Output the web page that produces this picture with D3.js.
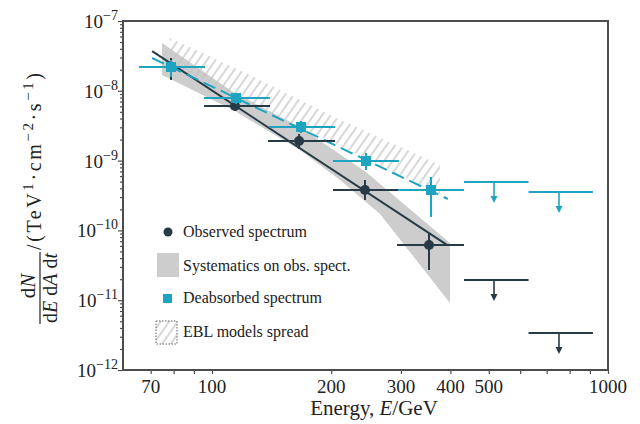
<!DOCTYPE html>
<html>
<head>
<meta charset="utf-8">
<script src="https://cdn.jsdelivr.net/npm/d3@7"></script>
<style>
  body { margin: 0; background: #fff; }
  svg { display: block; font-family: "Liberation Serif", "DejaVu Serif", serif; }
</style>
</head>
<body>
<div id="container"></div>
<script>
"use strict";

const plotWidth = 640;
const plotHeight = 424;
const plotLeft = 123, plotRight = 608, plotTop = 21, plotBottom = 370;

const darkColor = "#263b45";
const cyanColor = "#1ea4c0";
const bandColor = "#cdcdcd";
const hatchColor = "#c2c2c2";
const frameColor = "#4d4d4d";

// observed spectrum (GeV, TeV^-1 cm^-2 s^-1)
const obsEnergy = [78.8, 114.3, 165.9, 243.4, 353.2];
const obsElow = [65.4, 95.5, 138.5, 202.1, 293.2];
const obsEhigh = [96.0, 140.1, 204.5, 294.9, 432.9];
const obsFlux = [2.19e-8, 6.05e-9, 1.91e-9, 3.79e-10, 6.18e-11];
const obsFluxLow = [1.43e-8, 5.14e-9, 1.47e-9, 2.73e-10, 2.71e-11];
const obsFluxHigh = [2.95e-8, 7.15e-9, 2.41e-9, 5.27e-10, 9.18e-11];

// deabsorbed spectrum
const deabsEnergy = [78.8, 115.0, 167.8, 244.8, 357.3];
const deabsElow = [65.4, 95.5, 139.3, 202.1, 294.9];
const deabsEhigh = [96.0, 140.1, 204.5, 296.6, 432.9];
const deabsFlux = [2.19e-8, 7.88e-9, 3.03e-9, 9.86e-10, 3.79e-10];
const deabsFluxLow = [1.58e-8, 6.47e-9, 2.48e-9, 7.33e-10, 1.56e-10];
const deabsFluxHigh = [2.76e-8, 9.29e-9, 3.69e-9, 1.29e-9, 5.82e-10];

// upper limits
const ulEnergy = [515.4, 752];
const ulElow = [432.9, 630];
const ulEhigh = [630, 916];
const obsUlFlux = [1.95e-11, 3.39e-12];
const deabsUlFlux = [4.93e-10, 3.55e-10];

// fitted power laws
const obsFitEnergy = [70.6, 392];
const obsFitFlux = [3.7e-8, 6.2e-11];
const deabsFitEnergy = [70.6, 394];
const deabsFitFlux = [2.95e-8, 2.82e-10];

// systematics band on observed spectrum
const sysUpperEnergy = [74.8, 113, 166.8, 244.8, 399];
const sysUpperFlux = [4.84e-8, 9.6e-9, 3.03e-9, 6.87e-10, 6.6e-11];
const sysLowerEnergy = [74.8, 113, 166.8, 210.5, 265.6, 399];
const sysLowerFlux = [1.68e-8, 5.31e-9, 1.42e-9, 5.27e-10, 1.72e-10, 9.12e-12];

// EBL models spread
const eblEnergy = [78.3, 124.7, 198.6, 376.5];
const eblUpperFlux = [5.71e-8, 1.68e-8, 4.5e-9, 8.65e-10];
const eblLowerFlux = [2.42e-8, 6.68e-9, 1.91e-9, 3.32e-10];

const xTicks = [70, 80, 90, 100, 200, 300, 400, 500, 600, 700, 800, 900, 1000];
const xLabels = [70, 100, 200, 300, 400, 500, 1000];
const yMajor = [1e-12, 1e-11, 1e-10, 1e-9, 1e-8, 1e-7];
const yExponents = ["−12", "−11", "−10", "−9", "−8", "−7"];

const legendLabels = ["Observed spectrum", "Systematics on obs. spect.", "Deabsorbed spectrum", "EBL models spread"];

const xScale = d3.scaleLog().domain([59.6, 1000]).range([plotLeft, plotRight]);
const yScale = d3.scaleLog().domain([1e-12, 1e-7]).range([plotBottom, plotTop]);

const svg = d3
  .select("#container")
  .append("svg")
  .attr("width", plotWidth)
  .attr("height", plotHeight);

const defs = svg.append("defs");
defs
  .append("pattern")
  .attr("id", "hatch")
  .attr("patternUnits", "userSpaceOnUse")
  .attr("width", 7)
  .attr("height", 7)
  .attr("patternTransform", "rotate(35)")
  .append("line")
  .attr("x1", 1).attr("y1", 0).attr("x2", 1).attr("y2", 7)
  .attr("stroke", hatchColor)
  .attr("stroke-width", 1.3);

const area = (eUp, fUp, eLo, fLo) => {
  const pts = eUp.map((e, i) => [xScale(e), yScale(fUp[i])]);
  const lows = eLo.map((e, i) => [xScale(e), yScale(fLo[i])]).reverse();
  return "M" + pts.concat(lows).map((p) => p.join(",")).join("L") + "Z";
};

// systematics band
svg
  .append("path")
  .attr("d", area(sysUpperEnergy, sysUpperFlux, sysLowerEnergy, sysLowerFlux))
  .attr("fill", bandColor);

// EBL hatch
svg
  .append("path")
  .attr("d", area(eblEnergy, eblUpperFlux, eblEnergy, eblLowerFlux))
  .attr("fill", "url(#hatch)");

// fit lines
const line = d3.line().x((d) => xScale(d[0])).y((d) => yScale(d[1]));
svg
  .append("path")
  .attr("d", line(obsFitEnergy.map((e, i) => [e, obsFitFlux[i]])))
  .attr("stroke", darkColor)
  .attr("stroke-width", 2)
  .attr("fill", "none");
svg
  .append("path")
  .attr("d", line(deabsFitEnergy.map((e, i) => [e, deabsFitFlux[i]])))
  .attr("stroke", cyanColor)
  .attr("stroke-width", 2)
  .attr("stroke-dasharray", "13,6")
  .attr("fill", "none");

const drawPoints = (energy, eLow, eHigh, flux, fLow, fHigh, color, shape) => {
  const data = energy.map((e, i) => ({ e, el: eLow[i], eh: eHigh[i], f: flux[i], fl: fLow[i], fh: fHigh[i] }));
  const g = svg.append("g").attr("stroke", color).attr("stroke-width", 2);
  g.selectAll(".xerr")
    .data(data)
    .join("line")
    .attr("class", "xerr")
    .attr("x1", (d) => xScale(d.el))
    .attr("x2", (d) => xScale(d.eh))
    .attr("y1", (d) => yScale(d.f))
    .attr("y2", (d) => yScale(d.f));
  g.selectAll(".yerr")
    .data(data)
    .join("line")
    .attr("class", "yerr")
    .attr("x1", (d) => xScale(d.e))
    .attr("x2", (d) => xScale(d.e))
    .attr("y1", (d) => yScale(d.fl))
    .attr("y2", (d) => yScale(d.fh));
  if (shape === "circle") {
    svg.append("g").selectAll("circle")
      .data(data)
      .join("circle")
      .attr("cx", (d) => xScale(d.e))
      .attr("cy", (d) => yScale(d.f))
      .attr("r", 5)
      .attr("fill", color);
  } else {
    svg.append("g").selectAll("rect")
      .data(data)
      .join("rect")
      .attr("x", (d) => xScale(d.e) - 5)
      .attr("y", (d) => yScale(d.f) - 5)
      .attr("width", 10)
      .attr("height", 10)
      .attr("fill", color);
  }
};

const drawLimits = (flux, color) => {
  const data = ulEnergy.map((e, i) => ({ e, el: ulElow[i], eh: ulEhigh[i], f: flux[i] }));
  const g = svg.append("g");
  g.selectAll(".bar")
    .data(data)
    .join("line")
    .attr("class", "bar")
    .attr("x1", (d) => xScale(d.el))
    .attr("x2", (d) => xScale(d.eh))
    .attr("y1", (d) => yScale(d.f))
    .attr("y2", (d) => yScale(d.f))
    .attr("stroke", color)
    .attr("stroke-width", 2);
  g.selectAll(".stem")
    .data(data)
    .join("line")
    .attr("class", "stem")
    .attr("x1", (d) => xScale(d.e))
    .attr("x2", (d) => xScale(d.e))
    .attr("y1", (d) => yScale(d.f))
    .attr("y2", (d) => yScale(d.f) + 16)
    .attr("stroke", color)
    .attr("stroke-width", 1.6);
  g.selectAll(".head")
    .data(data)
    .join("path")
    .attr("class", "head")
    .attr("d", (d) => {
      const x = xScale(d.e), y = yScale(d.f);
      return `M${x - 3.5},${y + 14}L${x + 3.5},${y + 14}L${x},${y + 21}Z`;
    })
    .attr("fill", color);
};

drawPoints(obsEnergy, obsElow, obsEhigh, obsFlux, obsFluxLow, obsFluxHigh, darkColor, "circle");
drawPoints(deabsEnergy, deabsElow, deabsEhigh, deabsFlux, deabsFluxLow, deabsFluxHigh, cyanColor, "square");
drawLimits(deabsUlFlux, cyanColor);
drawLimits(obsUlFlux, darkColor);

// axes
const yMinor = [];
yMajor.slice(0, -1).forEach((m) => {
  for (let k = 2; k <= 9; k++) yMinor.push(m * k);
});

const xAxis = d3.axisBottom(xScale).tickValues(xTicks).tickSize(4).tickSizeOuter(0).tickFormat("");
const yAxis = d3.axisLeft(yScale).tickValues(yMajor).tickSize(5).tickSizeOuter(0).tickFormat("");
const yAxisMinor = d3.axisLeft(yScale).tickValues(yMinor).tickSize(3).tickSizeOuter(0).tickFormat("");

[
  svg.append("g").attr("transform", `translate(0, ${plotBottom})`).call(xAxis),
  svg.append("g").attr("transform", `translate(${plotLeft}, 0)`).call(yAxis),
  svg.append("g").attr("transform", `translate(${plotLeft}, 0)`).call(yAxisMinor),
].forEach((g) => {
  g.select(".domain").remove();
  g.selectAll("line").attr("stroke", frameColor).attr("stroke-width", 1.2);
});

svg
  .append("rect")
  .attr("x", plotLeft)
  .attr("y", plotTop)
  .attr("width", plotRight - plotLeft)
  .attr("height", plotBottom - plotTop)
  .attr("fill", "none")
  .attr("stroke", frameColor)
  .attr("stroke-width", 2);

svg
  .append("g")
  .selectAll("text")
  .data(xLabels)
  .join("text")
  .attr("x", (d) => xScale(d))
  .attr("y", 393)
  .attr("text-anchor", "middle")
  .style("font-size", "19px")
  .attr("fill", "#222")
  .text((d) => d);

const yLab = svg
  .append("g")
  .selectAll("text")
  .data(yMajor)
  .join("text")
  .attr("x", 118)
  .attr("y", (d) => yScale(d) + 7)
  .attr("text-anchor", "end")
  .style("font-size", "19px")
  .attr("fill", "#222");
yLab.append("tspan").text("10");
yLab
  .append("tspan")
  .attr("dy", -8)
  .style("font-size", "14px")
  .text((d, i) => yExponents[i]);

// x title
const xTitle = svg
  .append("text")
  .attr("x", 374)
  .attr("y", 415)
  .attr("text-anchor", "middle")
  .style("font-size", "21px")
  .attr("fill", "#222");
xTitle.append("tspan").text("Energy, ");
xTitle.append("tspan").style("font-style", "italic").text("E");
xTitle.append("tspan").text("/GeV");

// y title (rotated)
const yTitle = svg.append("g").attr("transform", "rotate(-90)").attr("fill", "#222");
const num = yTitle
  .append("text")
  .attr("x", -286)
  .attr("y", 35)
  .attr("text-anchor", "middle")
  .style("font-size", "21px");
num.append("tspan").text("d");
num.append("tspan").style("font-style", "italic").text("N");
yTitle
  .append("line")
  .attr("x1", -324)
  .attr("x2", -252)
  .attr("y1", 40)
  .attr("y2", 40)
  .attr("stroke", "#222")
  .attr("stroke-width", 1.2);
const den = yTitle
  .append("text")
  .attr("x", -288)
  .attr("y", 57)
  .attr("text-anchor", "middle")
  .style("font-size", "20px");
[["d", false], ["E", true], [" d", false], ["A", true], [" d", false], ["t", true]].forEach(([s, it]) => {
  den.append("tspan").style("font-style", it ? "italic" : "normal").text(s);
});
const units = yTitle
  .append("text")
  .attr("x", -250)
  .attr("y", 41)
  .style("font-size", "20px")
  .style("letter-spacing", "2.6px");
[["/(TeV", 0], ["1", 1], ["·cm", 2], ["−2", 1], ["·s", 2], ["−1", 1], [")", 2]].forEach(([s, k]) => {
  units
    .append("tspan")
    .attr("dy", k === 1 ? -8 : k === 2 ? 8 : 0)
    .style("font-size", k === 1 ? "15px" : "20px")
    .text(s);
});

// legend
const lx = 183;
const legend = svg.append("g");
legend.append("circle").attr("cx", 168).attr("cy", 232).attr("r", 4.5).attr("fill", darkColor);
legend.append("rect").attr("x", 157).attr("y", 253).attr("width", 22).attr("height", 24).attr("fill", bandColor);
legend.append("rect").attr("x", 163).attr("y", 294).attr("width", 9).attr("height", 9).attr("fill", cyanColor);
legend
  .append("rect")
  .attr("x", 156)
  .attr("y", 321)
  .attr("width", 21)
  .attr("height", 23)
  .attr("fill", "url(#hatch)")
  .attr("stroke", "#666")
  .attr("stroke-width", 1)
  .attr("stroke-dasharray", "1.5,1.5");
legend
  .selectAll(".leg")
  .data(legendLabels)
  .join("text")
  .attr("class", "leg")
  .attr("x", lx)
  .attr("y", (d, i) => [237, 271, 303, 337][i])
  .style("font-size", "16px")
  .attr("fill", "#222")
  .text((d) => d);
</script>
</body>
</html>
